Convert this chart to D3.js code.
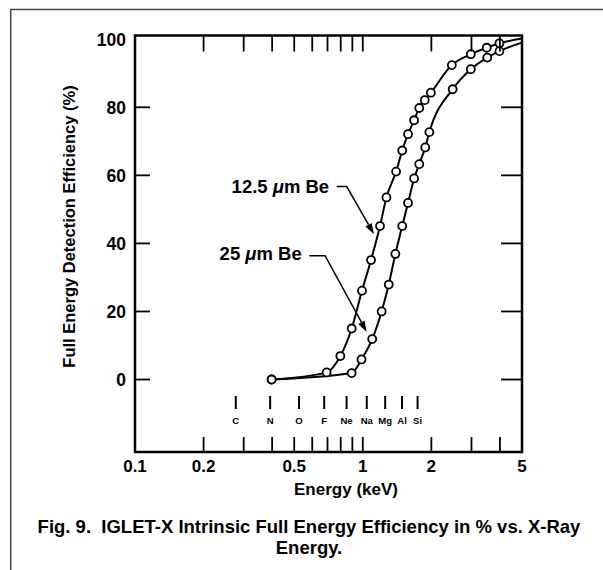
<!DOCTYPE html>
<html>
<head>
<meta charset="utf-8">
<script src="https://cdn.jsdelivr.net/npm/d3@7"></script>
<style>
  body { margin: 0; background: #fff; }
  svg text { font-family: "Liberation Sans", Arial, Helvetica, sans-serif; font-weight: bold; fill: #000; }
</style>
</head>
<body>
<div id="chart"></div>
<script>
// values
var energyThin = [0.398, 0.694, 0.797, 0.894, 0.992, 1.087, 1.19, 1.27, 1.40, 1.49, 1.58, 1.68, 1.77, 1.87, 1.99, 2.46, 2.98, 3.50, 3.98];
var effThin    = [0, 2.1, 6.9, 15.0, 26.1, 35.1, 45.1, 53.5, 61.1, 67.3, 72.1, 76.2, 79.8, 82.1, 84.3, 92.4, 95.6, 97.5, 98.8];
var energyThick = [0.398, 0.894, 0.987, 1.10, 1.21, 1.30, 1.39, 1.49, 1.58, 1.68, 1.77, 1.88, 1.96, 2.48, 2.98, 3.52, 3.98];
var effThick    = [0, 1.9, 5.9, 11.9, 20.0, 27.9, 36.9, 45.1, 51.9, 59.1, 63.3, 68.2, 72.7, 85.3, 91.2, 94.6, 96.5];
var curveEnd = { thin: 100.2, thick: 99.0 };   // where the lines meet the 5 keV edge

var xTickLabels = [0.1, 0.2, 0.5, 1, 2, 5];
var xMinorTicks = [0.2, 0.3, 0.4, 0.5, 0.6, 0.7, 0.8, 0.9, 1, 2, 3, 4];
var yTickLabels = [0, 20, 40, 60, 80, 100];
var yTicks = [0, 20, 40, 60, 80];

var elements = ["C", "N", "O", "F", "Ne", "Na", "Mg", "Al", "Si"];
var elementEnergy = [0.277, 0.392, 0.525, 0.677, 0.849, 1.041, 1.254, 1.487, 1.740];

var labels = [
        { pre: "12.5 ", text: "m Be", textY: 54.7, leader: [[0.768, 56.7], [0.850, 56.7], [1.12, 42.7]] },
        { pre: "25 ", text: "m Be", textY: 35.1, leader: [[0.582, 36.4], [0.683, 36.4], [1.04, 14.0]] }
];

var W = 603, H = 570;
var svg = d3.select("#chart").append("svg")
        .attr("width", W)
        .attr("height", H);

var x = d3.scaleLog().domain([0.1, 5]).range([135, 522]);
var y = d3.scaleLinear().domain([-21.3, 101.1]).range([452, 35.5]);

// outer figure border (top and left only)
svg.append("path")
        .attr("d", "M10.7,570 L10.7,9.5 L603,9.5")
        .attr("fill", "none")
        .attr("stroke", "#444")
        .attr("stroke-width", 1.5);

function drawFrame() {
        var g = svg.append("g").attr("class", "frame");
        var x0 = x.range()[0], x1 = x.range()[1];
        var yb = y.range()[0], yt = y.range()[1];

        g.append("rect")
                .attr("x", x0).attr("y", yt)
                .attr("width", x1 - x0).attr("height", yb - yt)
                .attr("fill", "none")
                .attr("stroke", "#000")
                .attr("stroke-width", 2.5);

        xMinorTicks.forEach(function(v) {
                g.append("line")
                        .attr("x1", x(v)).attr("x2", x(v))
                        .attr("y1", yt).attr("y2", yt + 16)
                        .attr("stroke", "#000").attr("stroke-width", 1.8);
                g.append("line")
                        .attr("x1", x(v)).attr("x2", x(v))
                        .attr("y1", yb).attr("y2", yb - 15)
                        .attr("stroke", "#000").attr("stroke-width", 1.8);
        });

        yTicks.forEach(function(v) {
                g.append("line")
                        .attr("x1", x0).attr("x2", x0 + 15)
                        .attr("y1", y(v)).attr("y2", y(v))
                        .attr("stroke", "#000").attr("stroke-width", 1.8);
                g.append("line")
                        .attr("x1", x1).attr("x2", x1 - 21)
                        .attr("y1", y(v)).attr("y2", y(v))
                        .attr("stroke", "#000").attr("stroke-width", 1.8);
        });

        g.selectAll(".xl").data(xTickLabels).enter().append("text")
                .attr("class", "xl")
                .attr("x", function(d) { return x(d); })
                .attr("y", 471.5)
                .attr("text-anchor", "middle")
                .style("font-size", "17px")
                .text(function(d) { return d; });

        g.selectAll(".yl").data(yTickLabels).enter().append("text")
                .attr("class", "yl")
                .attr("x", 126)
                .attr("y", function(d) { return y(d); })
                .attr("dy", "0.36em")
                .attr("text-anchor", "end")
                .style("font-size", "17.5px")
                .text(function(d) { return d; });

        g.append("text")
                .attr("x", 346)
                .attr("y", 495)
                .attr("text-anchor", "middle")
                .style("font-size", "17px")
                .text("Energy (keV)");

        g.append("text")
                .attr("transform", "translate(75,226.5) rotate(-90)")
                .attr("text-anchor", "middle")
                .style("font-size", "16.5px")
                .text("Full Energy Detection Efficiency (%)");
}

function drawElements() {
        var g = svg.append("g").attr("class", "elements");
        elements.forEach(function(name, i) {
                var ex = x(elementEnergy[i]);
                g.append("line")
                        .attr("x1", ex).attr("x2", ex)
                        .attr("y1", y(-4.85)).attr("y2", y(-8.67))
                        .attr("stroke", "#000").attr("stroke-width", 2);
                g.append("text")
                        .attr("x", ex)
                        .attr("y", y(-13.2))
                        .attr("text-anchor", "middle")
                        .style("font-size", "9.5px")
                        .text(name);
        });
}

function drawSeries(es, vs, endVal) {
        var pts = es.map(function(e, i) { return [e, vs[i]]; });
        var linePts = pts.concat([[5, endVal]]);
        var line = d3.line()
                .x(function(d) { return x(d[0]); })
                .y(function(d) { return y(d[1]); })
                .curve(d3.curveMonotoneX);

        svg.append("path")
                .datum(linePts)
                .attr("d", line)
                .attr("fill", "none")
                .attr("stroke", "#000")
                .attr("stroke-width", 2);

        svg.append("g").selectAll("circle").data(pts).enter().append("circle")
                .attr("cx", function(d) { return x(d[0]); })
                .attr("cy", function(d) { return y(d[1]); })
                .attr("r", 4)
                .attr("fill", "#fff")
                .attr("stroke", "#000")
                .attr("stroke-width", 1.8);
}

function drawLabels() {
        var g = svg.append("g").attr("class", "labels");
        labels.forEach(function(lb) {
                var p = lb.leader.map(function(d) { return [x(d[0]), y(d[1])]; });
                var tip = p[p.length - 1], prev = p[p.length - 2];
                var ang = Math.atan2(tip[1] - prev[1], tip[0] - prev[0]);
                var len = 11, half = 3.6;
                var bx = tip[0] - len * Math.cos(ang), by = tip[1] - len * Math.sin(ang);

                g.append("path")
                        .attr("d", d3.line()(p.slice(0, -1).concat([[bx, by]])))
                        .attr("fill", "none")
                        .attr("stroke", "#000")
                        .attr("stroke-width", 1.5);

                g.append("path")
                        .attr("d", d3.line()([tip,
                                [bx + half * Math.sin(ang), by - half * Math.cos(ang)],
                                [bx - half * Math.sin(ang), by + half * Math.cos(ang)]]) + "Z")
                        .attr("fill", "#000");

                var t = g.append("text")
                        .attr("x", p[0][0] - 7.5)
                        .attr("y", y(lb.textY))
                        .attr("text-anchor", "end")
                        .attr("xml:space", "preserve")
                        .style("font-size", "18.5px");
                t.append("tspan").text(lb.pre);
                t.append("tspan").style("font-style", "italic").text("\u03bc");
                t.append("tspan").text(lb.text);
        });
}

drawElements();
drawSeries(energyThick, effThick, curveEnd.thick);
drawSeries(energyThin, effThin, curveEnd.thin);
drawFrame();
drawLabels();

// caption
var cap = svg.append("g").attr("class", "caption");
cap.append("text")
        .attr("x", 309)
        .attr("y", 533)
        .attr("text-anchor", "middle")
        .attr("xml:space", "preserve")
        .style("font-size", "18.5px")
        .style("white-space", "pre")
        .text("Fig. 9.  IGLET-X Intrinsic Full Energy Efficiency in % vs. X-Ray");
cap.append("text")
        .attr("x", 309)
        .attr("y", 554)
        .attr("text-anchor", "middle")
        .style("font-size", "18.5px")
        .text("Energy.");
</script>
</body>
</html>
